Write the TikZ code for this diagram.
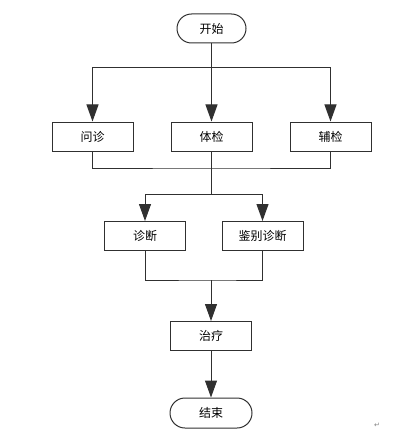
\documentclass[tikz,border=0pt]{standalone}
\usepackage{fontspec}
\newfontfamily\cjk{Noto Sans CJK SC}
\newfontfamily\dejavu{DejaVu Sans}
\usetikzlibrary{arrows.meta,shapes.misc}
\definecolor{ln}{HTML}{303030}
\tikzset{
  stepbox/.style={draw=ln,line width=1pt,minimum width=81pt,minimum height=29pt,inner sep=0pt,font=\cjk\fontsize{12}{12}\selectfont},
  termbox/.style={stepbox,rounded rectangle},
  flow/.style={draw=ln,line width=1pt},
  arr/.style={flow,-{Triangle[length=17pt,width=12pt]}},
}
\begin{document}
\begin{tikzpicture}[x=1pt,y=-1pt]
\useasboundingbox (0,0) rectangle (392,441);
\node[termbox,minimum width=69pt] (start) at (211.5,28.5) {开始};
\node[stepbox] (wz) at (92.5,136.5) {问诊};
\node[stepbox] (tj) at (211.5,136.5) {体检};
\node[stepbox] (fj) at (330.5,136.5) {辅检};
\node[stepbox] (zd) at (145,236) {诊断};
\node[stepbox] (jb) at (262.5,236) {鉴别诊断};
\node[stepbox] (zl) at (211,336) {治疗};
\node[termbox,minimum width=82pt,minimum height=30pt] (end) at (211,413) {结束};
\coordinate (s1) at (211.5,68);
\coordinate (m1) at (211.5,168);
\coordinate (s2) at (211.5,194);
\coordinate (m2) at (211,280);
\draw[flow] (start.south) -- (s1);
\draw[arr] (s1) -| (wz.north);
\draw[arr] (s1) -| (fj.north);
\draw[arr] (s1) -- (tj.north);
\draw[flow] (wz.south) |- (m1) -| (fj.south);
\draw[flow] (tj.south) -- (s2);
\draw[arr] (s2) -| (zd.north);
\draw[arr] (s2) -| (jb.north);
\draw[flow] (zd.south) |- (m2) -| (jb.south);
\draw[arr] (m2) -- (zl.north);
\draw[arr] (zl.south) -- (end.north);
\node[font=\dejavu\fontsize{7}{7}\selectfont,text=gray] (pm) at (377,425) {↵};
\end{tikzpicture}
\end{document}
